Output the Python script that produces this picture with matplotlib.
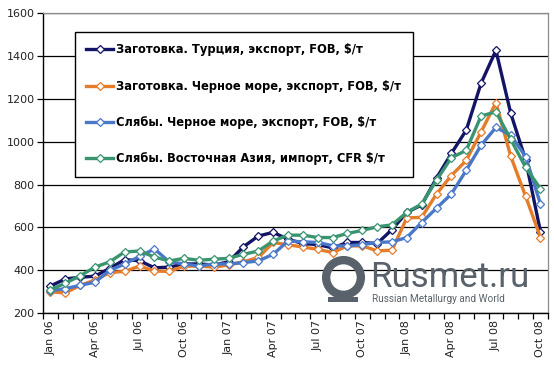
import numpy as np
import matplotlib
matplotlib.use('Agg')
import matplotlib.pyplot as plt
from matplotlib.patches import Rectangle

# ---- data ----
months = ['Jan 06', 'Feb 06', 'Mar 06', 'Apr 06', 'May 06', 'Jun 06', 'Jul 06', 'Aug 06',
          'Sep 06', 'Oct 06', 'Nov 06', 'Dec 06', 'Jan 07', 'Feb 07', 'Mar 07', 'Apr 07',
          'May 07', 'Jun 07', 'Jul 07', 'Aug 07', 'Sep 07', 'Oct 07', 'Nov 07', 'Dec 07',
          'Jan 08', 'Feb 08', 'Mar 08', 'Apr 08', 'May 08', 'Jun 08', 'Jul 08', 'Aug 08',
          'Sep 08', 'Oct 08']

billet_turkey = [327, 360, 368, 373, 410, 450, 445, 412, 415, 430, 430, 425,
                 440, 510, 560, 577, 545, 525, 520, 505, 530, 530, 525, 590,
                 670, 705, 830, 945, 1053, 1272, 1425, 1131, 915, 580]
billet_blacksea = [300, 295, 330, 355, 390, 395, 420, 397, 395, 420, 420, 415,
                   425, 440, 460, 530, 519, 509, 498, 483, 514, 514, 491, 494,
                   645, 647, 756, 842, 912, 1045, 1181, 931, 745, 553]
slab_blacksea = [305, 315, 330, 345, 400, 430, 465, 500, 440, 430, 420, 430,
                 430, 436, 444, 475, 537, 533, 530, 515, 514, 520, 530, 533,
                 553, 623, 690, 756, 866, 983, 1066, 1030, 930, 709]
slab_eastasia = [310, 340, 375, 415, 440, 486, 490, 462, 444, 456, 447, 452,
                 456, 475, 490, 537, 564, 564, 553, 553, 572, 586, 603, 612,
                 670, 709, 820, 925, 959, 1119, 1139, 1010, 880, 780]

labels = ['Заготовка. Турция, экспорт, FOB, $/т',
          'Заготовка. Черное море, экспорт, FOB, $/т',
          'Слябы. Черное море, экспорт, FOB, $/т',
          'Слябы. Восточная Азия, импорт, CFR $/т']
series = [billet_turkey, billet_blacksea, slab_blacksea, slab_eastasia]
colors = ['#141466', '#e57c2a', '#4a78c8', '#3a9470']

yticks = [200, 400, 600, 800, 1000, 1200, 1400, 1600]

# ---- figure ----
fig = plt.figure(figsize=(5.54, 3.66), dpi=100)
ax = fig.add_axes([0.0776, 0.144, 0.9114, 0.821])

x = np.arange(len(months))
for vals, lab, col in zip(series, labels, colors):
    ax.plot(x, vals, color=col, lw=2.4, marker='D', markersize=4.5,
            markerfacecolor='white', markeredgecolor=col, markeredgewidth=0.9,
            label=lab)

ax.set_xlim(-0.5, len(months) - 0.5)
ax.set_ylim(200, 1600)

# y axis
ax.set_yticks(yticks)
ax.set_yticklabels([str(v) for v in yticks], fontsize=8, color='#222222')
ax.yaxis.grid(True, color='black', lw=0.9)
ax.set_axisbelow(True)
ax.tick_params(axis='y', length=4, width=0.9, color='black', pad=2)

# x axis: labels every 3 months at category centres, ticks at boundaries
ax.set_xticks(x[::3])
ax.set_xticklabels(months[::3], rotation=90, fontsize=8, color='#222222')
ax.set_xticks(np.arange(-0.5, len(months), 1), minor=True)
ax.tick_params(axis='x', which='major', length=0, pad=5)
ax.tick_params(axis='x', which='minor', length=4, width=0.9, color='black')

for s in ['top', 'right']:
    ax.spines[s].set_color('#8c8c8c')
    ax.spines[s].set_linewidth(0.9)
for s in ['left', 'bottom']:
    ax.spines[s].set_color('black')
    ax.spines[s].set_linewidth(1.0)

leg = ax.legend(loc='upper left', bbox_to_anchor=(0.063, 0.937), fancybox=False,
                frameon=True, edgecolor='black', framealpha=1.0,
                prop={'family': 'DejaVu Sans', 'weight': 'bold', 'size': 8.3},
                labelspacing=2.02, handlelength=2.3, handletextpad=0.3,
                borderpad=1.0, borderaxespad=0)
leg.get_frame().set_linewidth(1.0)
leg.set_zorder(5)

# watermark
wm = '#59626a'
ax.plot([0.594], [0.121], transform=ax.transAxes, marker='o', markersize=25,
        markerfacecolor='none', markeredgecolor=wm, markeredgewidth=6, zorder=6)
ax.add_patch(Rectangle((0.564, 0.038), 0.06, 0.017, transform=ax.transAxes,
                       color=wm, zorder=6, lw=0))
ax.text(0.648, 0.086, 'Rusmet.ru', transform=ax.transAxes, fontsize=25,
        family='Roboto', color=wm, ha='left', va='baseline', zorder=6)
ax.text(0.652, 0.036, 'Russian Metallurgy and World', transform=ax.transAxes,
        fontsize=7.2, family='Roboto', color=wm, ha='left', va='baseline', zorder=6)

fig.savefig('out.png', dpi=100, facecolor='white')
